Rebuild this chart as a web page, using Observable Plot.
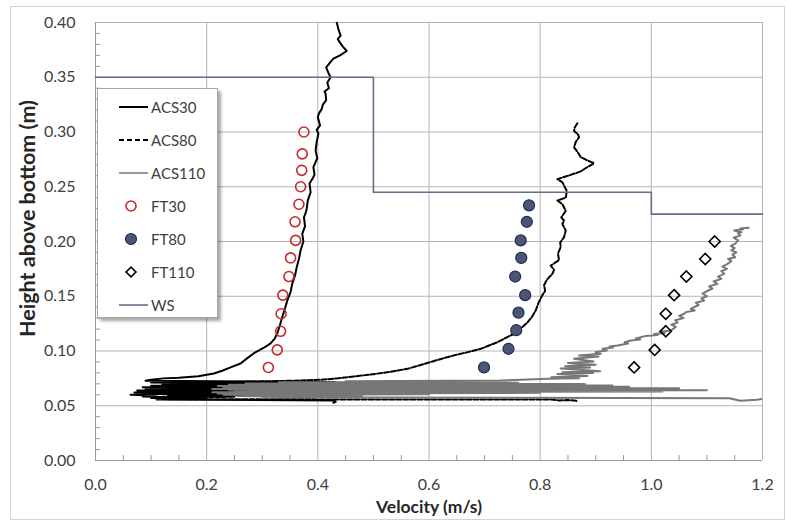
<!DOCTYPE html>
<html><head><meta charset="utf-8">
<script src="https://cdn.jsdelivr.net/npm/d3@7"></script>
<script src="https://cdn.jsdelivr.net/npm/@observablehq/plot@0.6"></script>
<style>
body{margin:0;background:#fff;font-family:Lato,"Open Sans",sans-serif;}
#wrap{position:relative;width:787px;height:522px;overflow:hidden}
#border{position:absolute;left:10px;top:6px;width:775px;height:514px;border:1px solid #d4d4d4;box-sizing:border-box;pointer-events:none}
#legend{position:absolute;left:97px;top:88px;width:121px;height:230px;background:#fff;border:1px solid #a6a6a6;box-shadow:3px 3px 3px rgba(0,0,0,0.35);box-sizing:border-box}
.row{position:absolute;left:0;width:120px;height:20px}
.row svg{position:absolute;left:20px;top:0}
.row span{position:absolute;left:53px;top:0;line-height:20px;font-size:15px;color:#404040;font-family:Lato,sans-serif}
</style></head>
<body><div id="wrap"><div id="border"></div></div>
<script>
// ---- data ----
const velTicks = [0, 0.2, 0.4, 0.6, 0.8, 1.0, 1.2];
const hTicks = [0, 0.05, 0.10, 0.15, 0.20, 0.25, 0.30, 0.35, 0.40];
const velMinor = [0.05,0.1,0.15,0.25,0.3,0.35,0.45,0.5,0.55,0.65,0.7,0.75,0.85,0.9,0.95,1.05,1.1,1.15];
const hMinor = [0.01,0.02,0.03,0.04,0.06,0.07,0.08,0.09,0.11,0.12,0.13,0.14,0.16,0.17,0.18,0.19,0.21,0.22,0.23,0.24,0.26,0.27,0.28,0.29,0.31,0.32,0.33,0.34,0.36,0.37,0.38,0.39];

const seriesNames = ["ACS30","ACS80","ACS110","FT30","FT80","FT110","WS"];

// ADV/ACS profiles: [velocity m/s, height m]
const acs30 = [[0.434,0.400],[0.437,0.394],[0.441,0.388],[0.436,0.385],[0.438,0.383],[0.445,0.378],[0.452,0.374],[0.440,0.370],[0.428,0.367],[0.423,0.364],[0.415,0.359],[0.419,0.354],[0.423,0.350],[0.417,0.345],[0.420,0.340],[0.412,0.337],[0.414,0.335],[0.415,0.329],[0.409,0.325],[0.407,0.321],[0.402,0.317],[0.400,0.3135],[0.404,0.306],[0.398,0.302],[0.401,0.2985],[0.398,0.291],[0.396,0.283],[0.399,0.276],[0.392,0.268],[0.394,0.261],[0.390,0.257],[0.385,0.253],[0.387,0.245],[0.382,0.2375],[0.380,0.230],[0.378,0.226],[0.375,0.222],[0.377,0.214],[0.372,0.207],[0.374,0.200],[0.369,0.192],[0.366,0.184],[0.362,0.1765],[0.359,0.169],[0.354,0.1615],[0.351,0.154],[0.345,0.146],[0.341,0.139],[0.336,0.131],[0.332,0.124],[0.327,0.116],[0.322,0.111],[0.315,0.107],[0.303,0.103],[0.285,0.098],[0.272,0.093],[0.261,0.0886],[0.243,0.085],[0.228,0.082],[0.213,0.0795],[0.185,0.077],[0.150,0.0755],[0.122,0.075],[0.100,0.0738],[0.090,0.0728],
 [0.43,0.0718],[0.10,0.0712],[0.32,0.0705],[0.12,0.0698],[0.38,0.069],[0.10,0.0683],[0.22,0.0676],[0.085,0.067],[0.26,0.0662],[0.09,0.0655],[0.18,0.0648],[0.075,0.064],[0.20,0.0632],[0.07,0.0622],[0.15,0.0612],[0.063,0.060],[0.11,0.0592],[0.085,0.0585],[0.14,0.0578],[0.10,0.057],[0.20,0.0562],[0.11,0.0556],[0.43,0.0548],[0.432,0.0535],[0.428,0.0528]];

const acs80 = [[0.867,0.308],[0.862,0.304],[0.861,0.301],[0.868,0.298],[0.870,0.295],[0.864,0.291],[0.861,0.286],[0.867,0.282],[0.873,0.277],[0.885,0.274],[0.897,0.2715],[0.885,0.268],[0.873,0.264],[0.850,0.260],[0.831,0.257],[0.840,0.254],[0.843,0.251],[0.848,0.246],[0.846,0.240],[0.831,0.2375],[0.840,0.234],[0.846,0.228],[0.838,0.222],[0.843,0.219],[0.840,0.216],[0.846,0.210],[0.843,0.204],[0.836,0.199],[0.837,0.195],[0.832,0.189],[0.834,0.183],[0.819,0.178],[0.825,0.174],[0.822,0.1705],[0.812,0.165],[0.807,0.160],[0.809,0.155],[0.804,0.151],[0.797,0.144],[0.792,0.137],[0.785,0.131],[0.777,0.126],[0.766,0.121],[0.753,0.1157],[0.738,0.112],[0.723,0.108],[0.708,0.105],[0.693,0.102],[0.670,0.099],[0.645,0.096],[0.620,0.0925],[0.597,0.089],[0.580,0.0865],[0.561,0.0837],[0.530,0.081],[0.495,0.0785],[0.465,0.0768],[0.435,0.075],[0.405,0.0737],[0.370,0.0731],[0.333,0.0726],[0.290,0.0722],[0.243,0.0717],[0.190,0.0714],[0.135,0.0712],
 [0.46,0.0705],[0.15,0.0698],[0.42,0.069],[0.14,0.0683],[0.36,0.0675],[0.13,0.0668],[0.44,0.066],[0.16,0.0652],[0.30,0.0645],[0.12,0.0638],[0.40,0.063],[0.14,0.0622],[0.28,0.0614],[0.12,0.0606],[0.38,0.0598],[0.13,0.059],[0.25,0.0582],[0.12,0.0574],[0.20,0.0566],[0.13,0.0559],[0.82,0.0557],[0.835,0.0548],[0.85,0.0552],[0.865,0.0545],[0.867,0.0532]];

const acs110 = [[1.175,0.2125],[1.160,0.2118],[1.165,0.2112],[1.149,0.210],[1.162,0.2085],[1.156,0.2075],[1.160,0.2055],[1.148,0.2035],[1.156,0.201],[1.151,0.198],[1.143,0.196],[1.150,0.194],[1.144,0.192],[1.153,0.190],[1.146,0.188],[1.151,0.1857],[1.138,0.184],[1.144,0.182],[1.137,0.1796],[1.128,0.177],[1.136,0.175],[1.126,0.173],[1.131,0.1705],[1.120,0.168],[1.126,0.166],[1.112,0.1635],[1.119,0.1614],[1.104,0.159],[1.110,0.157],[1.101,0.155],[1.092,0.1525],[1.100,0.150],[1.090,0.148],[1.095,0.146],[1.080,0.144],[1.085,0.142],[1.071,0.1385],[1.078,0.137],[1.062,0.1355],[1.059,0.134],[1.050,0.132],[1.058,0.130],[1.043,0.128],[1.047,0.126],[1.036,0.124],[1.044,0.122],[1.035,0.1187],[1.015,0.1175],[1.024,0.1165],[1.005,0.1155],[1.011,0.1145],[0.990,0.1138],[0.981,0.1126],[0.972,0.1115],[0.980,0.1105],[0.963,0.1096],[0.952,0.108],[0.958,0.1068],[0.939,0.105],[0.925,0.1042],[0.931,0.1032],[0.912,0.102],[0.920,0.1005],[0.900,0.099],[0.909,0.0975],[0.870,0.096],[0.905,0.095],[0.861,0.093],[0.896,0.0905],[0.850,0.089],[0.900,0.0875],[0.845,0.086],[0.890,0.085],[0.837,0.084],[0.908,0.0815],[0.840,0.0805],[0.895,0.0798],[0.831,0.079],[0.885,0.0772],[0.820,0.076],[0.870,0.0752],[0.813,0.0746],[0.729,0.073],
 [0.45,0.0724],[0.70,0.0719],[0.33,0.0714],[0.76,0.0709],[0.27,0.0704],[0.88,0.0698],[0.24,0.0692],[0.93,0.0686],[0.22,0.068],[0.96,0.0673],[0.23,0.0667],[1.05,0.066],[0.21,0.0654],[1.00,0.0649],[0.24,0.0645],[1.10,0.0641],[0.25,0.0636],[1.02,0.0630],[0.21,0.0624],[0.80,0.0618],[0.22,0.0612],[0.60,0.0606],[0.23,0.0600],[0.48,0.0594],[0.26,0.0588],[0.40,0.0582],[0.30,0.0577],[1.14,0.0568],[1.16,0.0545],[1.19,0.0555],[1.22,0.0575]];

// Flow-tracker points
const ft30 = [[0.375,0.300],[0.372,0.280],[0.371,0.265],[0.369,0.250],[0.366,0.234],[0.359,0.218],[0.360,0.201],[0.351,0.185],[0.348,0.168],[0.337,0.151],[0.334,0.134],[0.333,0.118],[0.327,0.101],[0.311,0.085]];
const ft80 = [[0.780,0.233],[0.776,0.218],[0.765,0.201],[0.766,0.185],[0.755,0.168],[0.773,0.151],[0.761,0.135],[0.757,0.119],[0.743,0.102],[0.699,0.085]];
const ft110 = [[1.114,0.200],[1.097,0.184],[1.063,0.168],[1.041,0.151],[1.026,0.134],[1.026,0.118],[1.006,0.101],[0.969,0.085]];

// water surface (step)
const ws = [[0, 0.350],[0.5, 0.245],[1.0, 0.225],[1.2, 0.225]];

const colors = {ACS30:"#000", ACS80:"#000", ACS110:"#777777", FT30:"#c8282d", FT80fill:"#4d5670", FT80stroke:"#1e2a5e", FT110:"#000", WS:"#6b6b8f"};

// ---- chart ----
const chart = Plot.plot({
  width: 787, height: 522,
  marginLeft: 95, marginRight: 25, marginTop: 22, marginBottom: 62,
  x: {domain: [0, 1.2]},
  y: {domain: [0, 0.4]},
  style: {fontFamily: "Lato, sans-serif", fontSize: "16px", color: "#404040", background: "transparent"},
  marks: [
    Plot.gridX(velTicks, {stroke: "#b4b4b8", strokeOpacity: 1}),
    Plot.gridY(hTicks, {stroke: "#b4b4b8", strokeOpacity: 1}),
    Plot.axisX(velTicks, {tickSize: 0, tickPadding: 18, tickFormat: d => d.toFixed(1), label: null, fontSize: 16}),
    Plot.axisY(hTicks, {tickSize: 0, tickPadding: 20, tickFormat: d => d.toFixed(2), label: null, fontSize: 16}),
    Plot.axisX(velMinor, {tickSize: 5, dy: -5, tickFormat: () => "", label: null, stroke: "#999"}),
    Plot.axisY(hMinor, {tickSize: 5, dx: 5, tickFormat: () => "", label: null, stroke: "#999"}),
    Plot.ruleX([0], {stroke: "#999"}),
    Plot.ruleY([0], {stroke: "#999"}),
    Plot.line(acs30, {x: d => d[0], y: d => d[1], stroke: colors.ACS30, strokeWidth: 2, clip: true}),
    Plot.line(acs80, {x: d => d[0], y: d => d[1], stroke: colors.ACS80, strokeWidth: 2, strokeDasharray: "5,2", clip: true}),
    Plot.line(acs110, {x: d => d[0], y: d => d[1], stroke: colors.ACS110, strokeWidth: 2, clip: true}),
    Plot.line(ws, {x: d => d[0], y: d => d[1], curve: "step-after", stroke: colors.WS, strokeWidth: 1.6}),
    Plot.dot(ft30, {x: d => d[0], y: d => d[1], r: 5, stroke: colors.FT30, strokeWidth: 1.6, fill: "none"}),
    Plot.dot(ft80, {x: d => d[0], y: d => d[1], r: 5.5, stroke: colors.FT80stroke, strokeWidth: 1.2, fill: colors.FT80fill}),
    Plot.dot(ft110, {x: d => d[0], y: d => d[1], r: 5, symbol: "diamond2", stroke: colors.FT110, strokeWidth: 1.6, fill: "none"}),
    Plot.text(["Velocity (m/s)"], {frameAnchor: "bottom", dy: 52, fontWeight: "bold", fontSize: 17.5, fill: "#262626"}),
    Plot.text(["Height above bottom (m)"], {frameAnchor: "left", textAnchor: "middle", dx: -67, dy: -23, rotate: -90, fontWeight: "bold", fontSize: 21.5, fill: "#262626"})
  ]
});
const wrap = document.getElementById("wrap");
wrap.insertBefore(chart, wrap.firstChild);

// ---- legend ----
const leg = document.createElement("div");
leg.id = "legend";
const symbols = {
  ACS30: `<line x1="1" x2="30" y1="10" y2="10" stroke="#000" stroke-width="2"/>`,
  ACS80: `<line x1="1" x2="30" y1="10" y2="10" stroke="#000" stroke-width="2" stroke-dasharray="5,3"/>`,
  ACS110: `<line x1="1" x2="30" y1="10" y2="10" stroke="#9a9a9a" stroke-width="2"/>`,
  FT30: `<circle cx="13" cy="10" r="5" fill="none" stroke="${colors.FT30}" stroke-width="1.6"/>`,
  FT80: `<circle cx="13" cy="10" r="5.5" fill="${colors.FT80fill}" stroke="${colors.FT80stroke}" stroke-width="1.2"/>`,
  FT110: `<rect x="9.5" y="6.5" width="7" height="7" transform="rotate(45 13 10)" fill="none" stroke="#000" stroke-width="1.6"/>`,
  WS: `<line x1="1" x2="30" y1="10" y2="10" stroke="${colors.WS}" stroke-width="1.6"/>`
};
seriesNames.forEach((name, i) => {
  const row = document.createElement("div");
  row.className = "row";
  row.style.top = (8 + i * 33) + "px";
  row.innerHTML = `<svg width="32" height="20">${symbols[name]}</svg><span>${name}</span>`;
  leg.appendChild(row);
});
wrap.appendChild(leg);
</script>
</body></html>
